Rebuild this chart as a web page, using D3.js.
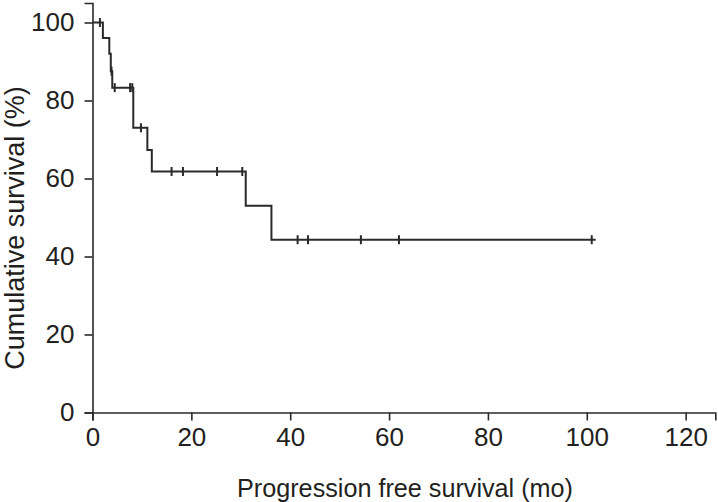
<!DOCTYPE html>
<html>
<head>
<meta charset="utf-8">
<script src="https://cdn.jsdelivr.net/npm/d3@7"></script>
<style>
  html, body { margin: 0; padding: 0; background: #fff; }
  svg text { font-family: "Liberation Sans", Arial, Helvetica, sans-serif; fill: #231f20; }
</style>
</head>
<body>
<svg id="chart" width="718" height="502"></svg>
<script>
// Step points of the Kaplan-Meier curve (time in months, survival %)
const stepTimes = [0, 2.1, 3.4, 3.7, 4.0, 8.25, 11.1, 12.0, 31.0, 36.2, 101.8];
const stepSurv  = [100, 96, 92, 87.5, 83.3, 73.0, 67.3, 61.8, 53.0, 44.3, 44.3];
// Censored observations
const censorTimes = [1.5, 3.85, 4.5, 7.6, 8.05, 9.8, 16.0, 18.3, 25.2, 30.3, 41.5, 43.6, 54.3, 62.0, 101.0];
const censorSurv  = [100, 87.5, 83.3, 83.3, 83.3, 73.0, 61.8, 61.8, 61.8, 61.8, 44.3, 44.3, 44.3, 44.3, 44.3];
// Axis ticks
const xTicks = [0, 20, 40, 60, 80, 100, 120];
const yTicks = [0, 20, 40, 60, 80, 100];
const xLabel = "Progression free survival (mo)";
const yLabel = "Cumulative survival (%)";

const svg = d3.select("#chart");
const ink = "#2a2a2a";

const x = d3.scaleLinear().domain([0, 126]).range([92.5, 715.3]);
const y = d3.scaleLinear().domain([0, 105]).range([412.5, 3]);

// Axes
const gx = svg.append("g").attr("transform", `translate(0,${y(0)})`)
  .call(d3.axisBottom(x).tickValues(xTicks).tickSize(8).tickPadding(7).tickFormat(d3.format("d")));
const gy = svg.append("g").attr("transform", `translate(${x(0)},0)`)
  .call(d3.axisLeft(y).tickValues(yTicks).tickSize(8).tickPadding(10).tickFormat(d3.format("d")));

[gx, gy].forEach(g => {
  g.select(".domain").attr("stroke", ink).attr("stroke-width", 1.6);
  g.selectAll(".tick line").attr("stroke", ink).attr("stroke-width", 1.6);
  g.selectAll(".tick text").attr("font-size", 26).attr("fill", "#231f20")
    .attr("font-family", "'Liberation Sans', Arial, sans-serif");
});

// KM curve
const pts = stepTimes.map((t, i) => [t, stepSurv[i]]);
const line = d3.line().x(d => x(d[0])).y(d => y(d[1])).curve(d3.curveStepAfter);
svg.append("path").datum(pts)
  .attr("d", line)
  .attr("fill", "none").attr("stroke", ink).attr("stroke-width", 2);

// Censor marks
svg.append("g").selectAll("line").data(censorTimes.map((t, i) => [t, censorSurv[i]]))
  .join("line")
  .attr("x1", d => x(d[0])).attr("x2", d => x(d[0]))
  .attr("y1", d => y(d[1]) - 4.5).attr("y2", d => y(d[1]) + 4.5)
  .attr("stroke", ink).attr("stroke-width", 2);

// Axis titles
svg.append("text").attr("x", 405).attr("y", 497).attr("text-anchor", "middle")
  .attr("font-size", 25.2).text(xLabel);
svg.append("text").attr("transform", "translate(24,228) rotate(-90)").attr("text-anchor", "middle")
  .attr("font-size", 27).text(yLabel);
</script>
</body>
</html>
